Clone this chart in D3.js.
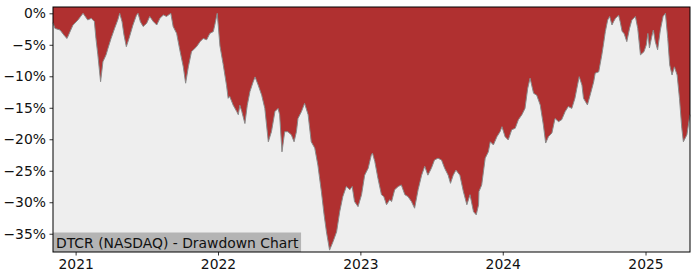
<!DOCTYPE html>
<html lang="en">
<head>
  <meta charset="utf-8">
  <title>DTCR Drawdown</title>
  <script src="https://d3js.org/d3.v7.min.js"></script>
  <style>
    body { margin: 0; background: #fff; }
    text { font-family: "DejaVu Sans", sans-serif; }
  </style>
</head>
<body>
<script type="text/javascript">

var svg_width = 700;
var svg_height = 280;
var margin = {top: 7, right: 10, bottom: 28, left: 53};

// drawdown in percent
var dates = [
  "2020-11-04","2020-11-09","2020-11-22","2020-12-05","2020-12-10","2020-12-17","2020-12-25",
  "2021-01-07","2021-01-20","2021-02-01","2021-02-10","2021-02-18","2021-02-22","2021-02-27",
  "2021-03-06","2021-03-12","2021-03-20","2021-03-25","2021-04-02","2021-04-11","2021-04-19",
  "2021-04-24","2021-04-30","2021-05-05","2021-05-11","2021-05-18","2021-05-28","2021-06-06",
  "2021-06-10","2021-06-16","2021-06-23","2021-07-02","2021-07-10","2021-07-19","2021-07-28",
  "2021-08-05","2021-08-14","2021-08-22","2021-09-02","2021-09-08","2021-09-17","2021-09-25",
  "2021-10-04","2021-10-10","2021-10-17","2021-10-25","2021-11-07","2021-11-16","2021-11-24",
  "2021-12-03","2021-12-11","2021-12-20","2021-12-25","2021-12-30",
  "2022-01-06","2022-01-14","2022-01-23","2022-01-27","2022-01-31","2022-02-09","2022-02-18",
  "2022-02-22","2022-02-26","2022-03-03","2022-03-11","2022-03-17","2022-03-24","2022-04-01",
  "2022-04-06","2022-04-14","2022-04-23","2022-05-01","2022-05-10","2022-05-18","2022-05-27",
  "2022-06-04","2022-06-08","2022-06-14","2022-06-21","2022-06-29","2022-07-08","2022-07-15",
  "2022-07-21","2022-07-25","2022-08-03","2022-08-11","2022-08-20","2022-08-28","2022-09-06",
  "2022-09-14","2022-09-23","2022-09-30","2022-10-06","2022-10-14","2022-10-23","2022-11-01",
  "2022-11-09","2022-11-17","2022-11-26","2022-12-05","2022-12-11","2022-12-17","2022-12-26",
  "2023-01-04","2023-01-12","2023-01-21","2023-01-29","2023-02-01","2023-02-07","2023-02-15",
  "2023-02-24","2023-03-02","2023-03-09","2023-03-17","2023-03-22","2023-03-30","2023-04-08",
  "2023-04-16","2023-04-25","2023-05-03","2023-05-12","2023-05-20","2023-05-29","2023-06-07",
  "2023-06-15","2023-06-23","2023-07-02","2023-07-10","2023-07-19","2023-07-28","2023-08-05",
  "2023-08-14","2023-08-20","2023-08-27","2023-09-03","2023-09-13","2023-09-22","2023-10-01",
  "2023-10-09","2023-10-18","2023-10-25","2023-10-31","2023-11-01","2023-11-08","2023-11-17",
  "2023-11-25","2023-11-30","2023-12-08","2023-12-17","2023-12-25","2023-12-30",
  "2024-01-07","2024-01-15","2024-01-24","2024-02-02","2024-02-10","2024-02-19","2024-02-27",
  "2024-03-05","2024-03-11","2024-03-20","2024-03-28","2024-04-06","2024-04-14","2024-04-20",
  "2024-04-27","2024-05-06","2024-05-14","2024-05-23","2024-05-31","2024-06-09","2024-06-17",
  "2024-06-26","2024-07-04","2024-07-09","2024-07-15","2024-07-22","2024-07-26","2024-08-05",
  "2024-08-12","2024-08-21","2024-08-25","2024-09-03","2024-09-11","2024-09-15","2024-09-20",
  "2024-09-26","2024-10-01","2024-10-07","2024-10-11","2024-10-16","2024-10-24","2024-10-28",
  "2024-11-02","2024-11-07","2024-11-14","2024-11-21","2024-11-27","2024-12-06","2024-12-12",
  "2024-12-19","2024-12-28",
  "2025-01-03","2025-01-07","2025-01-11","2025-01-17","2025-01-21","2025-01-26","2025-02-01",
  "2025-02-08","2025-02-15","2025-02-21","2025-02-27","2025-03-04","2025-03-10","2025-03-16",
  "2025-03-23","2025-03-29","2025-04-04","2025-04-08","2025-04-17","2025-04-25"
];

var drawdown = [
  -1.5, -2.4, -2.65, -3.7, -4.0, -3.0, -1.9,
  -1.06, 0, -1.06, -0.8, -1.3, -3.97, -6.6,
  -10.86, -7.68, -6.6, -5.55, -3.97, -2.38, -1.06,
  0, -1.33, -3.44, -5.3, -3.97, -1.86, -0.3,
  0, -1.33, -2.1, -1.6, -0.5, -1.3, -1.86,
  -0.8, -0.27, -0.5, 0, -2.1, -3.2, -5.8,
  -8.5, -11.1, -8.5, -6.1, -5.3, -4.5, -4.0,
  -4.2, -3.2, -2.9, -1.5, 0,
  -5.2, -8.0, -11.5, -13.5, -13.2, -14.6, -15.6,
  -16.1, -14.6, -15.6, -17.5, -14.6, -12.4, -10.9,
  -10.1, -11.4, -13.0, -15.1, -20.4, -18.8, -15.6,
  -15.1, -16.1, -22.0, -18.8, -18.8, -19.3, -20.4,
  -18.8, -16.7, -15.6, -14.3, -16.1, -20.4, -21.4,
  -24.1, -28.3, -32.0, -34.7, -37.6, -36.25, -34.7,
  -31.5, -29.1, -27.5, -28.0, -27.5, -29.9, -30.7,
  -28.8, -25.7, -24.6, -22.5, -22.2, -23.55, -26.2,
  -28.8, -29.1, -30.4, -29.6, -29.9, -28.0, -27.5,
  -27.25, -28.8, -29.1, -29.9, -30.95, -28.0, -25.7,
  -24.3, -25.7, -24.6, -23.3, -23.0, -23.3, -24.6,
  -25.7, -27.0, -25.7, -24.9, -25.7, -28.3, -30.4,
  -28.8, -31.5, -32.0, -30.4, -28.3, -27.25, -23.0,
  -22.0, -20.4, -20.9, -19.6, -18.8, -18.0,
  -19.6, -20.1, -18.5, -18.25, -16.9, -16.1, -15.1,
  -11.9, -10.3, -12.7, -13.0, -14.55, -17.7, -20.6,
  -19.6, -19.0, -16.7, -17.2, -16.9, -15.6, -14.8,
  -15.1, -13.5, -11.9, -10.06, -11.4, -13.5, -14.55,
  -13.0, -10.9, -9.5, -9.3, -6.6, -5.0, -2.9,
  -1.06, -0.5, -1.86, -1.33, -0.8, -0.3, -1.33,
  -2.9, -3.2, -4.5, -2.4, -1.06, -0.5, -2.4,
  -6.6, -6.1,
  -5.0, -3.2, -5.5, -3.7, -2.65, -4.5, -5.8,
  -2.65, -0.5, 0, -4.0, -8.2, -9.8, -8.5,
  -9.8, -13.5, -18.25, -20.4, -19.3, -16.1
];

var yTicks = [0, -5, -10, -15, -20, -25, -30, -35];
var xTickYears = ["2021", "2022", "2023", "2024", "2025"];
var chartLabel = "DTCR (NASDAQ) - Drawdown Chart";

var parseDate = d3.timeParse("%Y-%m-%d");
var dataset = dates.map(function(d, i) {
  return {date: parseDate(d), value: drawdown[i]};
});

var w = svg_width - margin.left - margin.right;
var h = svg_height - margin.top - margin.bottom;

var svg = d3.select("body")
  .append("svg")
  .attr("width", svg_width)
  .attr("height", svg_height);

var g = svg.append("g")
  .attr("transform", "translate(" + margin.left + "," + margin.top + ")");

var x = d3.scaleTime()
  .domain(d3.extent(dataset, function(d) { return d.date; }))
  .range([0, w]);

var y = d3.scaleLinear()
  .domain([-37.9, 1.0])
  .range([h, 0]);

// background
g.append("rect")
  .attr("width", w)
  .attr("height", h)
  .attr("fill", "#eeeeee");

// red area from curve up to the top of the plot
var area = d3.area()
  .x(function(d) { return x(d.date); })
  .y0(0)
  .y1(function(d) { return y(d.value); });

g.append("path")
  .datum(dataset)
  .attr("d", area)
  .attr("fill", "#b03030");

var line = d3.line()
  .x(function(d) { return x(d.date); })
  .y(function(d) { return y(d.value); });

g.append("path")
  .datum(dataset)
  .attr("d", line)
  .attr("fill", "none")
  .attr("stroke", "#8a8a8a")
  .attr("stroke-width", 1);

// label box
var label = g.append("g");
var lblText = label.append("text")
  .attr("x", 3)
  .attr("y", h - 4)
  .attr("font-size", "13.9px")
  .attr("fill", "#111")
  .text(chartLabel);
var bb = lblText.node().getBBox();
label.insert("rect", "text")
  .attr("x", 0)
  .attr("y", h - 19.5)
  .attr("width", bb.width + 5)
  .attr("height", 19.5)
  .attr("fill", "#b4b4b4");

// axes
var yAxis = d3.axisLeft(y)
  .tickValues(yTicks)
  .tickSize(3.5)
  .tickPadding(3.5)
  .tickFormat(function(d) { return d === 0 ? "0%" : "\u2212" + Math.abs(d) + "%"; });

var xAxis = d3.axisBottom(x)
  .tickValues(xTickYears.map(function(yr) { return parseDate(yr + "-01-01"); }))
  .tickSize(3.5)
  .tickPadding(3.5)
  .tickFormat(d3.timeFormat("%Y"));

var ya = g.append("g").call(yAxis);
var xa = g.append("g").attr("transform", "translate(0," + h + ")").call(xAxis);

[ya, xa].forEach(function(a) {
  a.select(".domain").remove();
  a.selectAll("text")
    .attr("font-family", "DejaVu Sans, sans-serif")
    .attr("font-size", "13.9px")
    .attr("fill", "#111");
  a.selectAll("line").attr("stroke", "#000").attr("stroke-width", 0.8);
});

// frame
g.append("rect")
  .attr("width", w)
  .attr("height", h)
  .attr("fill", "none")
  .attr("stroke", "#000")
  .attr("stroke-width", 1);

</script>
</body>
</html>
